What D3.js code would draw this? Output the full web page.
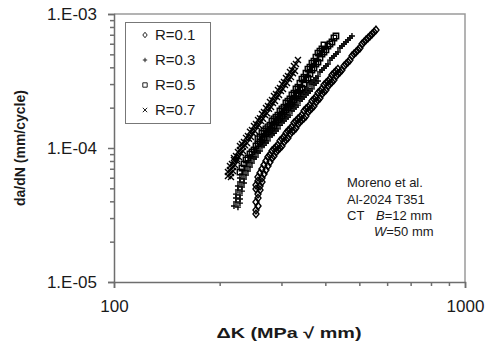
<!DOCTYPE html>
<html>
<head>
<meta charset="utf-8">
<script src="https://cdn.jsdelivr.net/npm/d3@7"></script>
<style>
  body { margin: 0; background: #fff; }
  text { font-family: Arial, "Liberation Sans", sans-serif; fill: #1a1a1a; }
</style>
</head>
<body>
<script>
// [deltaK (MPa sqrt mm), da/dN (mm/cycle)]
const r01 = [
  [253.8,3.22e-5],[253.8,3.44e-5],[257.2,3.69e-5],[253.8,3.95e-5],[257.2,4.23e-5],[257.2,4.53e-5],
  [260.6,4.86e-5],[260.6,5.20e-5],[264.0,5.57e-5],[264.0,5.97e-5],[267.5,6.40e-5],[271.0,6.85e-5],
  [274.6,7.34e-5],[278.2,7.86e-5],[281.9,8.42e-5],[285.6,8.72e-5],[289.4,9.34e-5],[293.2,9.66e-5],
  [297.1,1.00e-4],[301.0,1.036e-4],[305.0,1.11e-4],[309.0,1.15e-4],[313.1,1.19e-4],[317.2,1.27e-4],
  [321.4,1.32e-4],[325.6,1.36e-4],[329.9,1.41e-4],[334.3,1.51e-4],[338.7,1.56e-4],[343.2,1.62e-4],
  [347.7,1.67e-4],[352.3,1.73e-4],[357.0,1.86e-4],[361.7,1.92e-4],[366.5,1.99e-4],[371.3,2.06e-4],
  [376.2,2.20e-4],[381.2,2.28e-4],[386.2,2.36e-4],[391.3,2.53e-4],[396.5,2.62e-4],[401.7,2.71e-4],
  [407.0,2.90e-4],[412.4,3.00e-4],[417.8,3.11e-4],[423.3,3.22e-4],[428.9,3.44e-4],[434.6,3.56e-4],
  [440.3,3.69e-4],[446.1,3.82e-4],[452.0,4.09e-4],[458.0,4.23e-4],[464.0,4.38e-4],[470.2,4.53e-4],
  [476.4,4.86e-4],[482.7,5.03e-4],[489.1,5.20e-4],[495.5,5.39e-4],[502.1,5.57e-4],[508.7,5.97e-4],
  [515.4,6.18e-4],[522.2,6.40e-4],[529.1,6.62e-4],[536.2,6.85e-4],[543.3,7.09e-4],[550.4,7.34e-4],
  [557.7,7.60e-4],
  [253.8,4.94e-5],[253.8,5.29e-5],[257.1,5.67e-5],[257.1,6.07e-5],[260.5,6.51e-5],[263.9,6.97e-5],
  [267.4,7.47e-5],[270.9,8.00e-5],[274.5,8.57e-5],[278.1,8.87e-5],[281.8,9.50e-5],[285.5,9.83e-5],
  [289.3,1.02e-4],[293.1,1.05e-4],[297.0,1.13e-4],[300.9,1.17e-4],[304.9,1.21e-4],[308.9,1.29e-4],
  [313.0,1.34e-4],[317.1,1.39e-4],[321.3,1.44e-4],[325.6,1.54e-4],[329.9,1.59e-4],[334.2,1.65e-4],
  [338.6,1.70e-4],[343.1,1.76e-4],[347.7,1.89e-4],[352.3,1.96e-4],[356.9,2.02e-4],[361.6,2.09e-4],
  [366.4,2.24e-4],[371.2,2.32e-4],[376.1,2.40e-4],[381.1,2.57e-4],[386.1,2.66e-4],[391.2,2.76e-4],
  [396.4,2.95e-4],[401.6,3.05e-4],[406.9,3.16e-4],[412.3,3.27e-4],[417.7,3.50e-4],[423.3,3.62e-4],
  [428.8,3.75e-4],[434.5,3.88e-4]
];
const r03 = [
  [219.7,3.69e-5],[222.6,3.95e-5],[222.6,4.23e-5],[222.6,4.53e-5],[225.5,4.86e-5],[225.5,5.20e-5],
  [228.5,5.57e-5],[228.5,5.97e-5],[231.5,6.40e-5],[234.6,6.85e-5],[237.7,7.34e-5],[240.8,7.86e-5],
  [244.0,8.42e-5],[247.2,8.72e-5],[250.5,9.34e-5],[253.8,9.66e-5],[257.2,1.036e-4],[260.6,1.07e-4],
  [264.0,1.11e-4],[267.5,1.15e-4],[271.0,1.23e-4],[274.6,1.27e-4],[278.2,1.32e-4],[281.9,1.36e-4],
  [285.6,1.41e-4],[289.4,1.51e-4],[293.2,1.56e-4],[297.1,1.62e-4],[301.0,1.67e-4],[305.0,1.73e-4],
  [309.0,1.79e-4],[313.1,1.92e-4],[317.2,1.99e-4],[321.4,2.06e-4],[325.6,2.13e-4],[329.9,2.28e-4],
  [334.3,2.36e-4],[338.7,2.44e-4],[343.2,2.53e-4],[347.7,2.62e-4],[352.3,2.71e-4],[357.0,2.80e-4],
  [361.7,3.00e-4],[366.5,3.11e-4],[371.3,3.22e-4],[376.2,3.33e-4],[381.2,3.44e-4],[386.2,3.69e-4],
  [391.3,3.82e-4],[396.5,3.95e-4],[401.7,4.09e-4],[407.0,4.23e-4],[412.4,4.53e-4],[417.8,4.69e-4],
  [423.3,4.86e-4],[428.9,5.03e-4],[434.6,5.20e-4],[440.3,5.57e-4],[446.1,5.77e-4],[452.0,5.97e-4],
  [458.0,6.18e-4],[464.0,6.40e-4],[470.2,6.62e-4],[476.4,6.85e-4],
  [225.5,3.62e-5],[228.5,3.88e-5],[228.5,4.16e-5],[228.5,4.45e-5],[231.5,4.77e-5],[231.5,5.11e-5],
  [234.6,5.48e-5],[234.6,5.87e-5],[237.7,6.29e-5],[240.8,6.73e-5],[244.0,7.22e-5],[247.2,7.73e-5],
  [250.5,8.28e-5],[253.8,8.57e-5],[257.2,9.18e-5],[260.6,9.50e-5],[264.0,1.02e-4],[267.5,1.05e-4],
  [271.0,1.09e-4],[274.6,1.13e-4],[278.2,1.21e-4],[281.9,1.25e-4],[285.6,1.29e-4],[289.4,1.34e-4],
  [293.2,1.39e-4],[297.1,1.48e-4],[301.0,1.54e-4],[305.0,1.59e-4],[309.0,1.65e-4],[313.1,1.70e-4],
  [317.2,1.76e-4],[321.4,1.89e-4],[325.6,1.96e-4],[329.9,2.02e-4],[334.3,2.09e-4],[338.7,2.24e-4],
  [343.2,2.32e-4],[347.7,2.40e-4],[352.3,2.49e-4],[357.0,2.57e-4],[361.7,2.66e-4],[366.5,2.76e-4],
  [371.3,2.95e-4],[376.2,3.05e-4],[381.2,3.16e-4]
];
const r05 = [
  [228.5,6.62e-5],[231.5,7.09e-5],[234.6,7.60e-5],[237.7,8.14e-5],[240.8,8.42e-5],[244.0,9.02e-5],
  [247.2,9.34e-5],[250.5,9.66e-5],[253.8,1.036e-4],[257.2,1.07e-4],[260.6,1.11e-4],[264.0,1.15e-4],
  [267.5,1.19e-4],[271.0,1.27e-4],[274.6,1.32e-4],[278.2,1.36e-4],[281.9,1.41e-4],[285.6,1.46e-4],
  [289.4,1.56e-4],[293.2,1.62e-4],[297.1,1.67e-4],[301.0,1.73e-4],[305.0,1.86e-4],[309.0,1.92e-4],
  [313.1,1.99e-4],[317.2,2.13e-4],[321.4,2.20e-4],[325.6,2.28e-4],[329.9,2.44e-4],[334.3,2.53e-4],
  [338.7,2.71e-4],[343.2,2.80e-4],[347.7,3.00e-4],[352.3,3.22e-4],[357.0,3.33e-4],[361.7,3.56e-4],
  [366.5,3.82e-4],[371.3,3.95e-4],[376.2,4.23e-4],[381.2,4.38e-4],[386.2,4.69e-4],[391.3,5.03e-4],
  [396.5,5.20e-4],[401.7,5.39e-4],[407.0,5.77e-4],[412.4,5.97e-4],[417.8,6.18e-4],[423.3,6.62e-4],
  [428.9,6.85e-4],
  [257.1,1.17e-4],
  [260.5,1.21e-4],[263.9,1.29e-4],[267.4,1.34e-4],[270.9,1.39e-4],[274.5,1.44e-4],[278.1,1.48e-4],
  [281.8,1.59e-4],[285.5,1.65e-4],[289.3,1.70e-4],[293.1,1.76e-4],[297.0,1.89e-4],[300.9,1.96e-4],
  [304.9,2.02e-4],[308.9,2.17e-4],[313.0,2.24e-4],[317.1,2.32e-4],[321.3,2.49e-4],[325.6,2.57e-4],
  [329.9,2.76e-4],[334.2,2.85e-4],[338.6,3.05e-4],[343.1,3.27e-4],[347.7,3.38e-4],[352.3,3.62e-4],
  [356.9,3.88e-4],[361.6,4.02e-4],[366.4,4.30e-4],[371.2,4.45e-4],[376.1,4.77e-4],[381.1,5.11e-4],
  [386.1,5.29e-4],[391.2,5.48e-4],[396.4,5.87e-4]
];
const r07 = [
  [211.2,6.18e-5],[211.2,6.62e-5],[214.0,6.85e-5],[214.0,7.34e-5],[216.8,7.60e-5],[219.7,8.14e-5],
  [219.7,8.42e-5],[222.6,8.72e-5],[225.5,9.34e-5],[228.5,9.66e-5],[228.5,1.036e-4],[231.5,1.07e-4],
  [234.6,1.11e-4],[237.7,1.19e-4],[240.8,1.23e-4],[244.0,1.32e-4],[247.2,1.36e-4],[250.5,1.46e-4],
  [253.8,1.51e-4],[257.2,1.62e-4],[260.6,1.67e-4],[264.0,1.79e-4],[267.5,1.86e-4],[271.0,1.99e-4],
  [274.6,2.06e-4],[278.2,2.20e-4],[281.9,2.28e-4],[285.6,2.44e-4],[289.4,2.53e-4],[293.2,2.71e-4],
  [297.1,2.80e-4],[301.0,3.00e-4],[305.0,3.11e-4],[309.0,3.33e-4],[313.1,3.44e-4],[317.2,3.69e-4],
  [321.4,3.82e-4],[325.6,4.09e-4],[329.9,4.23e-4],[334.3,4.53e-4],
  [215.4,6.07e-5],[215.4,6.51e-5],[218.3,6.73e-5],[218.3,7.22e-5],[221.1,7.47e-5],[224.1,8.00e-5],
  [224.1,8.28e-5],[227.0,8.57e-5],[230.0,9.18e-5],[233.0,9.50e-5],[233.0,1.02e-4],[236.1,1.05e-4],
  [239.3,1.09e-4],[242.4,1.17e-4],[245.6,1.21e-4],[248.9,1.29e-4],[252.1,1.34e-4],[255.5,1.44e-4],
  [258.9,1.48e-4],[262.3,1.59e-4],[265.8,1.65e-4],[269.3,1.76e-4],[272.8,1.82e-4],[276.4,1.96e-4],
  [280.1,2.02e-4],[283.7,2.17e-4],[287.5,2.24e-4],[291.3,2.40e-4],[295.2,2.49e-4],[299.0,2.66e-4],
  [303.0,2.76e-4],[307.0,2.95e-4],[311.1,3.05e-4],[315.1,3.27e-4],[319.3,3.38e-4],[323.5,3.62e-4],
  [327.8,3.75e-4]
];

const series = [
  { name: "R=0.1", shape: "diamond", data: r01 },
  { name: "R=0.3", shape: "plus", data: r03 },
  { name: "R=0.5", shape: "square", data: r05 },
  { name: "R=0.7", shape: "times", data: r07 }
];
const xDomain = [100, 1000];
const yDomain = [1e-5, 1e-3];
const note = ["Moreno et al.", "Al-2024 T351"];

const width = 487, height = 344;
const margin = { top: 14, right: 22, bottom: 62, left: 114 };

const shapes = {
  diamond: s => `M0,${-s * 1.25}L${s},0L0,${s * 1.25}L${-s},0Z`,
  square: s => `M${-s},${-s}H${s}V${s}H${-s}Z`,
  plus: s => `M${-s},0H${s}M0,${-s}V${s}`,
  times: s => `M${-s},${-s}L${s},${s}M${-s},${s}L${s},${-s}`
};

const x = d3.scaleLog().domain(xDomain).range([margin.left, width - margin.right]);
const y = d3.scaleLog().domain(yDomain).range([height - margin.bottom, margin.top]);

const svg = d3.select("body").append("svg")
  .attr("width", width)
  .attr("height", height);

// frame (top / right)
svg.append("path")
  .attr("d", `M${x.range()[0]},${y.range()[1]}H${x.range()[1]}V${y.range()[0]}`)
  .attr("fill", "none")
  .attr("stroke", "#9a9a9a")
  .attr("stroke-width", 1.5);

const fmt = d => "1.E-" + String(-Math.round(Math.log10(d))).padStart(2, "0");
const yMajor = [1e-5, 1e-4, 1e-3];
const yMinor = y.ticks().filter(d => !yMajor.some(m => Math.abs(m - d) / m < 1e-6));
const xMajor = [100, 1000];
const xMinor = x.ticks().filter(d => !xMajor.includes(d));

svg.append("g")
  .attr("transform", `translate(${margin.left},0)`)
  .call(d3.axisLeft(y).tickValues(yMajor).tickFormat(fmt).tickSize(6).tickPadding(11));
svg.append("g")
  .attr("transform", `translate(${margin.left},0)`)
  .call(d3.axisLeft(y).tickValues(yMinor).tickFormat("").tickSize(4))
  .select(".domain").remove();

svg.append("g")
  .attr("transform", `translate(0,${height - margin.bottom})`)
  .call(d3.axisBottom(x).tickValues(xMajor).tickFormat(d3.format("d")).tickSize(6).tickPadding(12));
svg.append("g")
  .attr("transform", `translate(0,${height - margin.bottom})`)
  .call(d3.axisBottom(x).tickValues(xMinor).tickFormat("").tickSize(4))
  .select(".domain").remove();

svg.selectAll(".domain, .tick line").attr("stroke", "#6e6e6e").attr("stroke-width", 1.5);
svg.selectAll(".tick text")
  .attr("font-size", 17)
  .attr("font-family", "Arial, 'Liberation Sans', sans-serif")
  .attr("fill", "#1a1a1a");

// axis titles
svg.append("text")
  .attr("x", 289)
  .attr("y", 338)
  .attr("text-anchor", "middle")
  .attr("font-size", 15)
  .attr("font-weight", "bold")
  .attr("textLength", 145)
  .attr("lengthAdjust", "spacingAndGlyphs")
  .text("ΔK (MPa √ mm)");

svg.append("text")
  .attr("transform", `translate(25,${(y.range()[0] + y.range()[1]) / 2}) rotate(-90)`)
  .attr("text-anchor", "middle")
  .attr("font-size", 14)
  .attr("font-weight", "bold")
  .text("da/dN (mm/cycle)");

// data markers
const plot = svg.append("g");
series.forEach(s => {
  plot.append("g")
    .selectAll("path")
    .data(s.data)
    .join("path")
    .attr("transform", d => `translate(${x(d[0])},${y(d[1])})`)
    .attr("d", shapes[s.shape](s.shape === "square" ? 2.7 : 3))
    .attr("fill", "none")
    .attr("stroke", "#000")
    .attr("stroke-width", 1.4);
});

// legend
const legend = svg.append("g");
legend.append("rect")
  .attr("x", 125.5).attr("y", 22.5)
  .attr("width", 85).attr("height", 101)
  .attr("fill", "#fff")
  .attr("stroke", "#777")
  .attr("stroke-width", 1);
const item = legend.selectAll("g.item")
  .data(series)
  .join("g")
  .attr("class", "item")
  .attr("transform", (d, i) => `translate(145,${35 + i * 25})`);
item.append("path")
  .attr("d", d => shapes[d.shape](2.2))
  .attr("fill", "none")
  .attr("stroke", "#222")
  .attr("stroke-width", 1);
item.append("text")
  .attr("x", 10)
  .attr("dy", "0.36em")
  .attr("font-size", 15)
  .text(d => d.name);

// annotation
const ann = svg.append("g").attr("font-size", 13);
note.forEach((t, i) => {
  ann.append("text").attr("x", 347).attr("y", 187 + i * 16.5).text(t);
});
const ct = ann.append("text").attr("x", 347).attr("y", 220);
ct.append("tspan").text("CT");
ct.append("tspan").attr("x", 376).attr("font-style", "italic").text("B");
ct.append("tspan").text("=12 mm");
const w = ann.append("text").attr("x", 374).attr("y", 236);
w.append("tspan").attr("font-style", "italic").text("W");
w.append("tspan").text("=50 mm");
</script>
</body>
</html>
